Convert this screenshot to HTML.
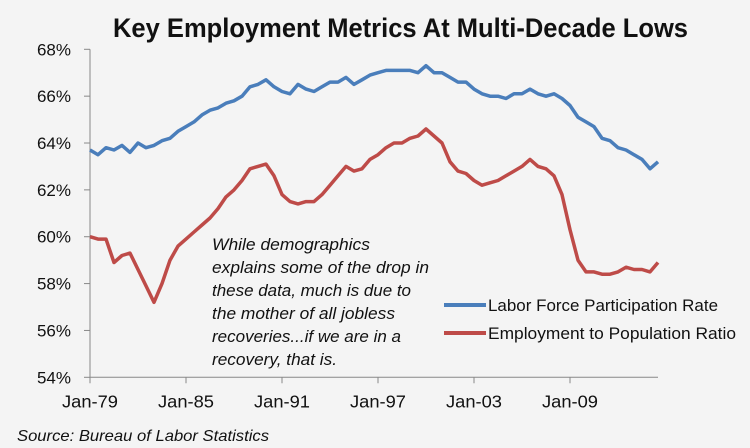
<!DOCTYPE html>
<html><head><meta charset="utf-8"><style>
body{margin:0;background:#f4f4f4;}
svg{display:block;font-family:"Liberation Sans",sans-serif;}
</style></head><body>
<svg width="750" height="448" viewBox="0 0 750 448">
<rect width="750" height="448" fill="#f4f4f4"/>
<text x="113" y="37" textLength="575" lengthAdjust="spacingAndGlyphs" font-size="27" font-weight="bold" fill="#111">Key Employment Metrics At Multi-Decade Lows</text>
<g id="axes"></g>
<g id="series"></g>
<g font-style="italic" font-size="17" fill="#111" lengthAdjust="spacingAndGlyphs">
<text x="212" y="250" textLength="158" lengthAdjust="spacingAndGlyphs">While demographics</text>
<text x="212" y="273" textLength="217" lengthAdjust="spacingAndGlyphs">explains some of the  drop in</text>
<text x="212" y="296" textLength="199" lengthAdjust="spacingAndGlyphs">these data, much is due to</text>
<text x="212" y="319" textLength="183" lengthAdjust="spacingAndGlyphs">the mother of all jobless</text>
<text x="212" y="342" textLength="189" lengthAdjust="spacingAndGlyphs">recoveries...if we are in a</text>
<text x="212" y="365" textLength="125" lengthAdjust="spacingAndGlyphs">recovery, that is.</text>
</g>
<g font-size="17" fill="#111">
<line x1="444" y1="305" x2="486" y2="305" stroke="#4a7ebb" stroke-width="4"/>
<text x="488" y="311" textLength="230" lengthAdjust="spacingAndGlyphs">Labor Force Participation Rate</text>
<line x1="444" y1="333" x2="486" y2="333" stroke="#be4b48" stroke-width="4"/>
<text x="488" y="339" textLength="248" lengthAdjust="spacingAndGlyphs">Employment to Population Ratio</text>
</g>
<text x="17" y="441" font-size="16" font-style="italic" fill="#111" textLength="252" lengthAdjust="spacingAndGlyphs">Source: Bureau of Labor Statistics</text>
</svg>
<script>
const yTicks=[54,56,58,60,62,64,66,68];
const xTickYears=[1979,1985,1991,1997,2003,2009];
const xTickLabels=["Jan-79","Jan-85","Jan-91","Jan-97","Jan-03","Jan-09"];
const startYear=1979;
const stepYears=0.5;
const lfpr=[63.7,63.5,63.8,63.7,63.9,63.6,64.0,63.8,63.9,64.1,64.2,64.5,64.7,64.9,65.2,65.4,65.5,65.7,65.8,66.0,66.4,66.5,66.7,66.4,66.2,66.1,66.5,66.3,66.2,66.4,66.6,66.6,66.8,66.5,66.7,66.9,67.0,67.1,67.1,67.1,67.1,67.0,67.3,67.0,67.0,66.8,66.6,66.6,66.3,66.1,66.0,66.0,65.9,66.1,66.1,66.3,66.1,66.0,66.1,65.9,65.6,65.1,64.9,64.7,64.2,64.1,63.8,63.7,63.5,63.3,62.9,63.2];
const epop=[60.0,59.9,59.9,58.9,59.2,59.3,58.6,57.9,57.2,58.0,59.0,59.6,59.9,60.2,60.5,60.8,61.2,61.7,62.0,62.4,62.9,63.0,63.1,62.6,61.8,61.5,61.4,61.5,61.5,61.8,62.2,62.6,63.0,62.8,62.9,63.3,63.5,63.8,64.0,64.0,64.2,64.3,64.6,64.3,64.0,63.2,62.8,62.7,62.4,62.2,62.3,62.4,62.6,62.8,63.0,63.3,63.0,62.9,62.6,61.8,60.3,59.0,58.5,58.5,58.4,58.4,58.5,58.7,58.6,58.6,58.5,58.9];
const NS="http://www.w3.org/2000/svg";
const x0=90,pxPerYear=16,y0=377.3,yTop=49.3;
function xs(yr){return x0+(yr-1979)*pxPerYear;}
function ys(v){return y0-(v-54)*(y0-yTop)/14;}
function mk(tag,attrs,parent){const e=document.createElementNS(NS,tag);for(const k in attrs)e.setAttribute(k,attrs[k]);parent.appendChild(e);return e;}
const axes=document.getElementById('axes');
let yax=mk('line',{x1:x0,y1:yTop,x2:x0,y2:y0,stroke:'#888','stroke-width':1},axes);


let xax=mk('line',{x1:x0,y1:y0,x2:658,y2:y0,stroke:'#888','stroke-width':1},axes);


yTicks.forEach(v=>{
 const t=mk('line',{x1:x0-6,y1:ys(v),x2:x0,y2:ys(v),stroke:'#888'},axes);
 
 
 const l=mk('text',{x:71,y:ys(v)+6,'text-anchor':'end','font-size':17,fill:'#111'},axes);
 l.textContent=v+'%';
 
 
});
xTickYears.forEach((yr,i)=>{
 const t=mk('line',{x1:xs(yr),y1:y0,x2:xs(yr),y2:y0+6,stroke:'#888'},axes);
 
 
 const l=mk('text',{x:xs(yr),y:y0+30,'text-anchor':'middle','font-size':17.5,fill:'#111',textLength:56,lengthAdjust:'spacingAndGlyphs'},axes);
 l.textContent=xTickLabels[i];
 
 
});
const ser=document.getElementById('series');
function line(arr,color,name){
 const pts=arr.map((v,i)=>xs(startYear+i*stepYears).toFixed(1)+','+ys(v).toFixed(1)).join(' ');
 const p=mk('polyline',{points:pts,fill:'none',stroke:color,'stroke-width':3.5,'stroke-linejoin':'round'},ser);
 
 
}
line(lfpr,'#4a7ebb','lfpr-line');
line(epop,'#be4b48','epop-line');
</script>
</body></html>
